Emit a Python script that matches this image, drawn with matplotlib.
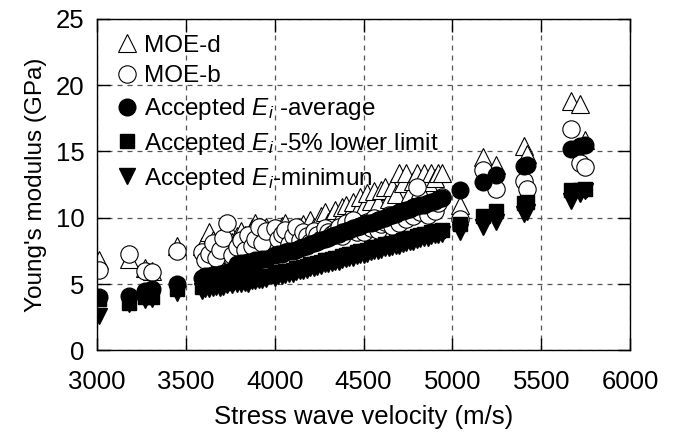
import numpy as np
import matplotlib
matplotlib.use('Agg')
import matplotlib.pyplot as plt

plt.rcParams['font.family'] = ['Liberation Sans', 'DejaVu Sans']
plt.rcParams['mathtext.fontset'] = 'custom'
plt.rcParams['mathtext.it'] = 'Liberation Sans:italic'
plt.rcParams['mathtext.rm'] = 'Liberation Sans'

# stress wave velocity of each sample (m/s)
velocity = [3010, 3180, 3270, 3310, 3450,
            3590, 3610, 3630, 3650, 3670, 3690, 3710, 3730, 3760, 3790, 3810, 3830,
            3850, 3870, 3890, 3910, 3930, 3950,
            4000, 4020, 4040, 4060, 4080, 4100, 4120, 4140, 4160, 4180, 4200, 4220,
            4240, 4260, 4280, 4300,
            4320, 4340, 4360, 4380, 4400, 4420, 4440, 4460, 4480, 4500, 4520, 4540,
            4560, 4580, 4600,
            4620, 4640, 4660, 4680, 4700, 4720, 4740, 4760, 4780, 4800, 4820, 4840,
            4860, 4880, 4900, 4920, 4940,
            5040, 5170, 5245, 5400, 5420, 5665, 5715, 5745]

# Young's modulus (GPa)
moe_d = [6.8, 6.9, 6.2, 6.0, 7.9,
         7.9, 7.6, 8.9, 8.3, 7.3, 8.1, 8.8, 9.4, 8.2, 8.6, 9.0, 8.7, 8.3, 9.2, 9.6, 8.5, 9.0, 9.3,
         9.2, 8.7, 9.4, 9.6, 9.0, 8.9, 9.2, 8.6, 9.5, 9.1, 9.8, 9.3, 9.0, 10.1, 10.4, 9.7,
         10.1, 10.6, 9.9, 10.8, 11.0, 10.3, 11.2, 10.5, 11.6, 10.9, 11.9, 11.3, 12.0, 11.1, 12.1,
         12.3, 11.4, 12.3, 11.8, 13.4, 12.6, 13.4, 11.9, 12.8, 13.4, 12.2, 13.4, 12.7, 13.4, 13.0, 13.4, 13.4,
         11.0, 14.6, 14.0, 15.4, 14.8, 18.8, 18.6, 15.9]

moe_b = [6.1, 7.3, 6.0, 5.9, 7.5,
         7.4, 6.8, 7.3, 8.1, 7.0, 7.6, 8.5, 9.6, 7.2, 7.8, 8.3, 7.6, 8.7, 7.9, 8.4, 9.3, 8.1, 9.0,
         9.2, 8.4, 8.8, 9.1, 8.0, 8.6, 9.3, 8.3, 8.9, 8.6, 8.2, 9.0, 8.7, 8.4, 9.2, 8.9,
         8.8, 8.9, 9.3, 8.6, 9.6, 9.1, 9.8, 8.9, 9.4, 8.9, 9.7, 9.2, 10.0, 9.1, 9.5,
         9.7, 10.2, 9.4, 10.0, 9.6, 10.3, 9.9, 10.6, 10.1, 12.3, 10.4, 10.8, 10.2, 11.0, 10.5, 11.1, 11.6,
         9.9, 13.6, 12.2, 12.8, 12.2, 16.7, 14.1, 13.8]

ei_avg = [4.0, 4.1, 4.5, 4.6, 5.0,
          5.5, 5.6, 5.6, 5.7, 5.7, 5.8, 5.8, 5.9, 6.0, 6.5, 6.6, 6.6, 6.7, 6.7, 6.8, 6.8, 6.9, 6.9,
          7.2, 7.3, 7.3, 7.4, 7.5, 7.5, 7.6, 7.7, 7.8, 7.9, 8.0, 8.1, 8.2, 8.3, 8.4, 8.5,
          8.6, 8.7, 8.8, 8.9, 9.0, 9.1, 9.2, 9.3, 9.4, 9.5, 9.6, 9.6, 9.7, 9.8, 9.9,
          10.0, 10.1, 10.2, 10.3, 10.4, 10.5, 10.6, 10.7, 10.8, 10.9, 11.0, 11.0, 11.1, 11.2, 11.3, 11.4, 11.5,
          12.1, 12.7, 13.2, 13.9, 14.0, 15.2, 15.4, 15.5]

ei_low = [3.9, 3.6, 4.0, 4.0, 4.6,
          4.8, 4.9, 4.9, 5.0, 5.0, 5.0, 5.1, 5.1, 5.2, 5.2, 5.3, 5.3, 5.4, 5.4, 5.5, 5.5, 5.6, 5.6,
          5.8, 5.9, 5.9, 6.0, 6.0, 6.1, 6.2, 6.2, 6.3, 6.4, 6.5, 6.5, 6.6, 6.7, 6.8, 6.8,
          6.9, 7.0, 7.0, 7.1, 7.2, 7.3, 7.3, 7.4, 7.5, 7.5, 7.6, 7.7, 7.8, 7.8, 7.9,
          8.0, 8.0, 8.1, 8.2, 8.2, 8.3, 8.4, 8.5, 8.5, 8.6, 8.7, 8.8, 8.8, 8.9, 9.0, 9.0, 9.1,
          9.5, 10.1, 10.5, 11.1, 11.2, 12.1, 12.1, 12.2]

ei_min = [2.6, 3.5, 3.8, 3.9, 4.3,
          4.5, 4.6, 4.6, 4.7, 4.8, 4.7, 4.8, 4.9, 4.9, 5.0, 5.0, 5.1, 5.0, 5.2, 5.2, 5.3, 5.3, 5.4,
          5.5, 5.6, 5.6, 5.7, 5.8, 5.8, 5.9, 6.0, 6.0, 6.1, 6.2, 6.2, 6.3, 6.4, 6.5, 6.5,
          6.6, 6.7, 6.7, 6.8, 6.9, 7.0, 7.0, 7.1, 7.2, 7.2, 7.3, 7.4, 7.5, 7.5, 7.6,
          7.7, 7.7, 7.8, 7.9, 7.9, 8.0, 8.1, 8.2, 8.2, 8.3, 8.4, 8.5, 8.5, 8.6, 8.7, 8.7, 8.8,
          8.9, 9.3, 9.7, 10.3, 10.4, 11.3, 11.8, 12.0]

labels = ['MOE-d', 'MOE-b', 'Accepted $E_i$ -average',
          'Accepted $E_i$ -5% lower limit', 'Accepted $E_i$-minimun']

fig = plt.figure(figsize=(6.74, 4.37), dpi=100)
ax = fig.add_axes([0.144, 0.198, 0.791, 0.759])

ax.plot(velocity, moe_d, '^', ms=13, mfc='white', mec='black', mew=0.8, ls='none', label=labels[0])
ax.plot(velocity, moe_b, 'o', ms=12.5, mfc='white', mec='black', mew=0.8, ls='none', label=labels[1])
ax.plot(velocity, ei_avg, 'o', ms=12, color='black', ls='none', label=labels[2])
ax.plot(velocity, ei_low, 's', ms=10, color='black', ls='none', label=labels[3])
ax.plot(velocity, ei_min, 'v', ms=12, color='black', ls='none', label=labels[4])

ax.set_xlim(3000, 6000)
ax.set_ylim(0, 25)
ax.set_xticks(np.arange(3000, 6001, 500))
ax.set_yticks(np.arange(0, 26, 5))
ax.grid(True, color='#555555', linestyle=(0, (4, 4)), linewidth=0.9)
ax.tick_params(direction='in', length=9, width=1, top=True, right=True, labelsize=18.5)
ax.tick_params(axis='x', pad=14)
ax.tick_params(axis='y', pad=9)
for s in ax.spines.values():
    s.set_linewidth(1.0)

ax.set_xlabel('Stress wave velocity (m/s)', fontsize=18.5, labelpad=8)
ax.set_ylabel("Young's modulus (GPa)", fontsize=17.5, labelpad=6)

ax.legend(loc='upper left', frameon=False, fontsize=17.5, handletextpad=0.1,
          handlelength=1.2, labelspacing=0.36, borderaxespad=0.35, borderpad=0.3)

fig.savefig('out.png', dpi=100)
